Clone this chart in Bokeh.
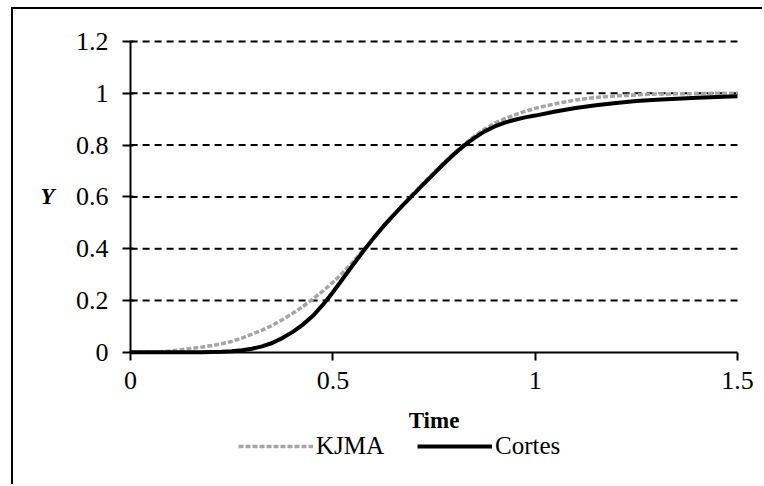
from bokeh.plotting import figure
from bokeh.models import Range1d, FixedTicker, Legend, LegendItem, Label
from bokeh.embed import file_html
from bokeh.resources import INLINE

# ---- data ----
time = [0.0, 0.025, 0.05, 0.075, 0.1, 0.125, 0.15, 0.175, 0.2, 0.225, 0.25,
        0.275, 0.3, 0.325, 0.35, 0.375, 0.4, 0.425, 0.45, 0.475, 0.5, 0.525,
        0.55, 0.575, 0.6, 0.625, 0.65, 0.675, 0.7, 0.725, 0.75, 0.775, 0.8,
        0.825, 0.85, 0.875, 0.9, 0.925, 0.95, 0.975, 1.0, 1.05, 1.1, 1.15,
        1.2, 1.25, 1.3, 1.35, 1.4, 1.45, 1.5]
kjma = [0.0, 0.0, 0.0, 0.002, 0.005, 0.01, 0.015, 0.02, 0.026, 0.033, 0.042,
        0.055, 0.07, 0.086, 0.104, 0.126, 0.15, 0.176, 0.205, 0.236, 0.27, 0.308,
        0.35, 0.395, 0.44, 0.485, 0.53, 0.573, 0.615, 0.655, 0.695, 0.733, 0.77,
        0.804, 0.835, 0.862, 0.885, 0.902, 0.917, 0.93, 0.942, 0.96, 0.974, 0.984,
        0.99, 0.994, 0.997, 0.998, 0.999, 1.0, 1.0]
cortes = [0.0, 0.0, 0.0, 0.0, 0.0, 0.0, 0.0, 0.0, 0.001, 0.002, 0.004,
          0.008, 0.014, 0.023, 0.036, 0.055, 0.078, 0.106, 0.14, 0.183, 0.232, 0.285,
          0.338, 0.39, 0.44, 0.487, 0.53, 0.571, 0.611, 0.651, 0.69, 0.729, 0.766,
          0.799, 0.828, 0.853, 0.872, 0.887, 0.898, 0.907, 0.914, 0.93, 0.943, 0.954,
          0.963, 0.97, 0.975, 0.979, 0.983, 0.986, 0.989]
series_names = ["KJMA", "Cortes"]
x_ticks = [0, 0.5, 1, 1.5]
x_tick_labels = ["0", "0.5", "1", "1.5"]
y_ticks = [0, 0.2, 0.4, 0.6, 0.8, 1.0, 1.2]
y_tick_labels = ["0", "0.2", "0.4", "0.6", "0.8", "1", "1.2"]
x_title = "Time"
y_title = "Y"

FONT = "Liberation Serif"

# canvas starts at (13, 9) on the page: 11/7 px margin + 2 px border line.
# The frame fills the whole canvas; both axes are pinned at 0 so that tick
# labels, the axis title and the legend sit around the data area.
p = figure(width=751, height=477, x_range=Range1d(-0.2894, 1.5668),
           y_range=Range1d(-0.518, 1.3236),
           output_backend="svg", toolbar_location=None,
           min_border_left=0, min_border_right=0, min_border_top=0,
           min_border_bottom=0)
p.title.visible = False
p.margin = (7, 0, 0, 11)
p.styles = {"border-top": "2px solid black", "border-left": "2px solid black"}
p.outline_line_color = None
p.background_fill_color = "white"
p.border_fill_color = "white"

# gridlines (dashed, spanning the data area only)
p.xgrid.visible = False
p.ygrid.visible = False
grid_y = y_ticks[1:]
p.segment(x0=x_ticks[0], x1=x_ticks[-1], y0=grid_y, y1=grid_y,
          line_color="black", line_width=2, line_dash="7 5")

# axes
for ax in (p.xaxis[0], p.yaxis[0]):
    ax.axis_line_color = "black"
    ax.axis_line_width = 2
    ax.major_tick_line_color = "black"
    ax.major_tick_line_width = 2
    ax.minor_tick_line_color = None
    ax.major_label_text_font = FONT
    ax.major_label_text_font_size = "26px"
    ax.major_label_text_color = "black"
    ax.axis_label_text_font = FONT
    ax.axis_label_text_font_size = "23px"
    ax.axis_label_text_color = "black"

p.xaxis.fixed_location = 0
p.xaxis.bounds = (x_ticks[0], x_ticks[-1])
p.xaxis.ticker = FixedTicker(ticks=x_ticks)
p.xaxis.major_label_overrides = dict(zip(x_ticks, x_tick_labels))
p.xaxis.major_tick_in = 0
p.xaxis.major_tick_out = 8
p.xaxis.major_label_standoff = 12
p.xaxis.axis_label = x_title
p.xaxis.axis_label_text_font_style = "bold"
p.xaxis.axis_label_standoff = 15

p.yaxis.fixed_location = 0
p.yaxis.bounds = (y_ticks[0], y_ticks[-1])
p.yaxis.ticker = FixedTicker(ticks=y_ticks)
p.yaxis.major_label_overrides = dict(zip(y_ticks, y_tick_labels))
p.yaxis.major_tick_in = 3
p.yaxis.major_tick_out = 8
p.yaxis.major_label_standoff = 14

# y-axis title, horizontal, level with the middle of the axis
p.add_layout(Label(x=-0.188, y=0.6, text=y_title, text_align="right",
                   text_baseline="middle", text_font=FONT,
                   text_font_size="23px", text_font_style="bold italic",
                   text_color="black"))

r_k = p.line(time, kjma, line_color="#a5a5a5", line_width=3.5, line_dash="5 2")
r_c = p.line(time, cortes, line_color="black", line_width=4)

legend = Legend(items=[LegendItem(label=series_names[0], renderers=[r_k]),
                       LegendItem(label=series_names[1], renderers=[r_c])],
                location=(225, 26), orientation="horizontal",
                margin=0, padding=0, spacing=33, label_standoff=3,
                glyph_width=75, glyph_height=24,
                background_fill_alpha=0, border_line_color=None,
                label_text_font=FONT, label_text_font_size="25px",
                label_text_color="black")
p.add_layout(legend, "center")

open("out.html", "w").write(file_html(p, INLINE))
